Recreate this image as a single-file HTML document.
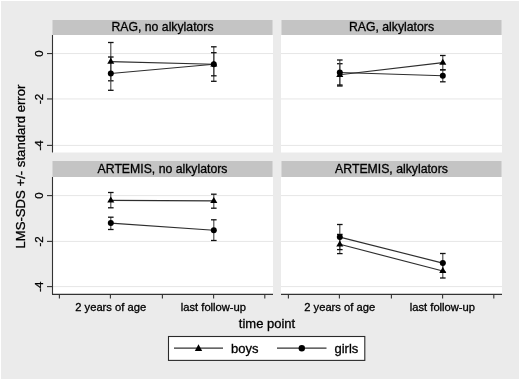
<!DOCTYPE html>
<html><head><meta charset="utf-8"><style>
html,body{margin:0;padding:0;background:#fff;}
svg{display:block;font-family:"Liberation Sans", sans-serif;filter:grayscale(1) blur(0.3px);}
text{stroke:#000;stroke-width:0.3px;}
</style></head><body>
<svg width="520" height="380" viewBox="0 0 520 380">
<rect x="0" y="0" width="520" height="380" fill="#ffffff"/>
<rect x="1" y="1" width="518" height="378" fill="#ebebeb"/>
<rect x="52.5" y="20" width="220" height="15" fill="#c4c4c4"/>
<text x="162.5" y="30.6" font-size="12.25" text-anchor="middle" fill="#000">RAG, no alkylators</text>
<rect x="52" y="35" width="221" height="117.5" fill="#fff"/>
<line x1="52" x2="273" y1="53.55" y2="53.55" stroke="#e6e6e6" stroke-width="1"/>
<line x1="52" x2="273" y1="98.95" y2="98.95" stroke="#e6e6e6" stroke-width="1"/>
<line x1="52" x2="273" y1="145.4" y2="145.4" stroke="#e6e6e6" stroke-width="1"/>
<line x1="52.5" x2="52.5" y1="35" y2="152.5" stroke="#333333" stroke-width="1.1"/>
<line x1="47" x2="52.5" y1="53.55" y2="53.55" stroke="#333333" stroke-width="1.1"/>
<text transform="translate(43.3,53.55) rotate(-90)" x="0" y="0" font-size="11.5" text-anchor="middle" fill="#000">0</text>
<line x1="47" x2="52.5" y1="98.95" y2="98.95" stroke="#333333" stroke-width="1.1"/>
<text transform="translate(43.3,98.95) rotate(-90)" x="0" y="0" font-size="11.5" text-anchor="middle" fill="#000">-2</text>
<line x1="47" x2="52.5" y1="145.4" y2="145.4" stroke="#333333" stroke-width="1.1"/>
<text transform="translate(43.3,145.4) rotate(-90)" x="0" y="0" font-size="11.5" text-anchor="middle" fill="#000">-4</text>
<line x1="110.8" x2="110.8" y1="42.5" y2="80.8" stroke="#444" stroke-width="1.1"/>
<line x1="108.0" x2="113.6" y1="42.5" y2="42.5" stroke="#111" stroke-width="1.3"/>
<line x1="108.0" x2="113.6" y1="80.8" y2="80.8" stroke="#111" stroke-width="1.3"/>
<line x1="213.8" x2="213.8" y1="46.8" y2="81.3" stroke="#444" stroke-width="1.1"/>
<line x1="211.0" x2="216.60000000000002" y1="46.8" y2="46.8" stroke="#111" stroke-width="1.3"/>
<line x1="211.0" x2="216.60000000000002" y1="81.3" y2="81.3" stroke="#111" stroke-width="1.3"/>
<line x1="110.8" x2="110.8" y1="57.0" y2="90.3" stroke="#444" stroke-width="1.1"/>
<line x1="108.0" x2="113.6" y1="57.0" y2="57.0" stroke="#111" stroke-width="1.3"/>
<line x1="108.0" x2="113.6" y1="90.3" y2="90.3" stroke="#111" stroke-width="1.3"/>
<line x1="213.8" x2="213.8" y1="52.7" y2="75.8" stroke="#444" stroke-width="1.1"/>
<line x1="211.0" x2="216.60000000000002" y1="52.7" y2="52.7" stroke="#111" stroke-width="1.3"/>
<line x1="211.0" x2="216.60000000000002" y1="75.8" y2="75.8" stroke="#111" stroke-width="1.3"/>
<line x1="110.8" y1="61.6" x2="213.8" y2="64.3" stroke="#2e2e2e" stroke-width="1.15"/>
<path d="M110.8,57.7 L114.35,63.7 L107.25,63.7 Z" fill="#000"/>
<path d="M213.8,60.4 L217.35000000000002,66.39999999999999 L210.25,66.39999999999999 Z" fill="#000"/>
<line x1="110.8" y1="73.5" x2="213.8" y2="64.3" stroke="#2e2e2e" stroke-width="1.15"/>
<circle cx="110.8" cy="73.5" r="3.0" fill="#000"/>
<circle cx="213.8" cy="64.3" r="3.0" fill="#000"/>
<rect x="281.5" y="20" width="220" height="15" fill="#c4c4c4"/>
<text x="391.5" y="30.6" font-size="12.25" text-anchor="middle" fill="#000">RAG, alkylators</text>
<rect x="281" y="35" width="221" height="117.5" fill="#fff"/>
<line x1="281" x2="502" y1="53.55" y2="53.55" stroke="#e6e6e6" stroke-width="1"/>
<line x1="281" x2="502" y1="98.95" y2="98.95" stroke="#e6e6e6" stroke-width="1"/>
<line x1="281" x2="502" y1="145.4" y2="145.4" stroke="#e6e6e6" stroke-width="1"/>
<line x1="339.8" x2="339.8" y1="63.7" y2="86.0" stroke="#444" stroke-width="1.1"/>
<line x1="337.0" x2="342.6" y1="63.7" y2="63.7" stroke="#111" stroke-width="1.3"/>
<line x1="337.0" x2="342.6" y1="86.0" y2="86.0" stroke="#111" stroke-width="1.3"/>
<line x1="442.8" x2="442.8" y1="55.5" y2="69.8" stroke="#444" stroke-width="1.1"/>
<line x1="440.0" x2="445.6" y1="55.5" y2="55.5" stroke="#111" stroke-width="1.3"/>
<line x1="440.0" x2="445.6" y1="69.8" y2="69.8" stroke="#111" stroke-width="1.3"/>
<line x1="339.8" x2="339.8" y1="60.0" y2="85.0" stroke="#444" stroke-width="1.1"/>
<line x1="337.0" x2="342.6" y1="60.0" y2="60.0" stroke="#111" stroke-width="1.3"/>
<line x1="337.0" x2="342.6" y1="85.0" y2="85.0" stroke="#111" stroke-width="1.3"/>
<line x1="442.8" x2="442.8" y1="69.8" y2="81.8" stroke="#444" stroke-width="1.1"/>
<line x1="440.0" x2="445.6" y1="69.8" y2="69.8" stroke="#111" stroke-width="1.3"/>
<line x1="440.0" x2="445.6" y1="81.8" y2="81.8" stroke="#111" stroke-width="1.3"/>
<line x1="339.8" y1="74.8" x2="442.8" y2="62.6" stroke="#2e2e2e" stroke-width="1.15"/>
<path d="M339.8,70.89999999999999 L343.35,76.89999999999999 L336.25,76.89999999999999 Z" fill="#000"/>
<path d="M442.8,58.7 L446.35,64.7 L439.25,64.7 Z" fill="#000"/>
<line x1="339.8" y1="72.5" x2="442.8" y2="75.8" stroke="#2e2e2e" stroke-width="1.15"/>
<circle cx="339.8" cy="72.5" r="3.0" fill="#000"/>
<circle cx="442.8" cy="75.8" r="3.0" fill="#000"/>
<rect x="52.5" y="161" width="220" height="16" fill="#c4c4c4"/>
<text x="162.5" y="173.2" font-size="12.25" text-anchor="middle" fill="#000">ARTEMIS, no alkylators</text>
<rect x="52" y="177" width="221" height="117.5" fill="#fff"/>
<line x1="52" x2="273" y1="195.6" y2="195.6" stroke="#e6e6e6" stroke-width="1"/>
<line x1="52" x2="273" y1="241.4" y2="241.4" stroke="#e6e6e6" stroke-width="1"/>
<line x1="52" x2="273" y1="286.6" y2="286.6" stroke="#e6e6e6" stroke-width="1"/>
<line x1="52.5" x2="52.5" y1="177" y2="294.5" stroke="#333333" stroke-width="1.1"/>
<line x1="47" x2="52.5" y1="195.6" y2="195.6" stroke="#333333" stroke-width="1.1"/>
<text transform="translate(43.3,195.6) rotate(-90)" x="0" y="0" font-size="11.5" text-anchor="middle" fill="#000">0</text>
<line x1="47" x2="52.5" y1="241.4" y2="241.4" stroke="#333333" stroke-width="1.1"/>
<text transform="translate(43.3,241.4) rotate(-90)" x="0" y="0" font-size="11.5" text-anchor="middle" fill="#000">-2</text>
<line x1="47" x2="52.5" y1="286.6" y2="286.6" stroke="#333333" stroke-width="1.1"/>
<text transform="translate(43.3,286.6) rotate(-90)" x="0" y="0" font-size="11.5" text-anchor="middle" fill="#000">-4</text>
<line x1="52" x2="273" y1="294.4" y2="294.4" stroke="#333333" stroke-width="1.3"/>
<line x1="59.4" x2="59.4" y1="294.4" y2="298.6" stroke="#333333" stroke-width="1.1"/>
<line x1="110.4" x2="110.4" y1="294.4" y2="298.6" stroke="#333333" stroke-width="1.1"/>
<line x1="162.4" x2="162.4" y1="294.4" y2="298.6" stroke="#333333" stroke-width="1.1"/>
<line x1="213.6" x2="213.6" y1="294.4" y2="298.6" stroke="#333333" stroke-width="1.1"/>
<line x1="264.8" x2="264.8" y1="294.4" y2="298.6" stroke="#333333" stroke-width="1.1"/>
<text x="110.7" y="310.6" font-size="11.2" text-anchor="middle" fill="#000">2 years of age</text>
<text x="213.4" y="310.6" font-size="11.2" text-anchor="middle" fill="#000">last follow-up</text>
<line x1="110.8" x2="110.8" y1="192.5" y2="207.8" stroke="#444" stroke-width="1.1"/>
<line x1="108.0" x2="113.6" y1="192.5" y2="192.5" stroke="#111" stroke-width="1.3"/>
<line x1="108.0" x2="113.6" y1="207.8" y2="207.8" stroke="#111" stroke-width="1.3"/>
<line x1="213.8" x2="213.8" y1="194.2" y2="208.2" stroke="#444" stroke-width="1.1"/>
<line x1="211.0" x2="216.60000000000002" y1="194.2" y2="194.2" stroke="#111" stroke-width="1.3"/>
<line x1="211.0" x2="216.60000000000002" y1="208.2" y2="208.2" stroke="#111" stroke-width="1.3"/>
<line x1="110.8" x2="110.8" y1="217.2" y2="229.5" stroke="#444" stroke-width="1.1"/>
<line x1="108.0" x2="113.6" y1="217.2" y2="217.2" stroke="#111" stroke-width="1.3"/>
<line x1="108.0" x2="113.6" y1="229.5" y2="229.5" stroke="#111" stroke-width="1.3"/>
<line x1="213.8" x2="213.8" y1="219.8" y2="240.5" stroke="#444" stroke-width="1.1"/>
<line x1="211.0" x2="216.60000000000002" y1="219.8" y2="219.8" stroke="#111" stroke-width="1.3"/>
<line x1="211.0" x2="216.60000000000002" y1="240.5" y2="240.5" stroke="#111" stroke-width="1.3"/>
<line x1="110.8" y1="200.4" x2="213.8" y2="200.9" stroke="#2e2e2e" stroke-width="1.15"/>
<path d="M110.8,196.5 L114.35,202.5 L107.25,202.5 Z" fill="#000"/>
<path d="M213.8,197.0 L217.35000000000002,203.0 L210.25,203.0 Z" fill="#000"/>
<line x1="110.8" y1="223.1" x2="213.8" y2="230.2" stroke="#2e2e2e" stroke-width="1.15"/>
<circle cx="110.8" cy="223.1" r="3.0" fill="#000"/>
<circle cx="213.8" cy="230.2" r="3.0" fill="#000"/>
<rect x="281.5" y="161" width="220" height="16" fill="#c4c4c4"/>
<text x="391.5" y="173.2" font-size="12.25" text-anchor="middle" fill="#000">ARTEMIS, alkylators</text>
<rect x="281" y="177" width="221" height="117.5" fill="#fff"/>
<line x1="281" x2="502" y1="195.6" y2="195.6" stroke="#e6e6e6" stroke-width="1"/>
<line x1="281" x2="502" y1="241.4" y2="241.4" stroke="#e6e6e6" stroke-width="1"/>
<line x1="281" x2="502" y1="286.6" y2="286.6" stroke="#e6e6e6" stroke-width="1"/>
<line x1="281" x2="502" y1="294.4" y2="294.4" stroke="#333333" stroke-width="1.3"/>
<line x1="288.4" x2="288.4" y1="294.4" y2="298.6" stroke="#333333" stroke-width="1.1"/>
<line x1="339.4" x2="339.4" y1="294.4" y2="298.6" stroke="#333333" stroke-width="1.1"/>
<line x1="391.4" x2="391.4" y1="294.4" y2="298.6" stroke="#333333" stroke-width="1.1"/>
<line x1="442.6" x2="442.6" y1="294.4" y2="298.6" stroke="#333333" stroke-width="1.1"/>
<line x1="493.8" x2="493.8" y1="294.4" y2="298.6" stroke="#333333" stroke-width="1.1"/>
<text x="339.7" y="310.6" font-size="11.2" text-anchor="middle" fill="#000">2 years of age</text>
<text x="442.4" y="310.6" font-size="11.2" text-anchor="middle" fill="#000">last follow-up</text>
<line x1="339.8" x2="339.8" y1="234.4" y2="253.6" stroke="#444" stroke-width="1.1"/>
<line x1="337.0" x2="342.6" y1="234.4" y2="234.4" stroke="#111" stroke-width="1.3"/>
<line x1="337.0" x2="342.6" y1="253.6" y2="253.6" stroke="#111" stroke-width="1.3"/>
<line x1="442.8" x2="442.8" y1="263.0" y2="278.0" stroke="#444" stroke-width="1.1"/>
<line x1="440.0" x2="445.6" y1="263.0" y2="263.0" stroke="#111" stroke-width="1.3"/>
<line x1="440.0" x2="445.6" y1="278.0" y2="278.0" stroke="#111" stroke-width="1.3"/>
<line x1="339.8" x2="339.8" y1="224.5" y2="249.6" stroke="#444" stroke-width="1.1"/>
<line x1="337.0" x2="342.6" y1="224.5" y2="224.5" stroke="#111" stroke-width="1.3"/>
<line x1="337.0" x2="342.6" y1="249.6" y2="249.6" stroke="#111" stroke-width="1.3"/>
<line x1="442.8" x2="442.8" y1="253.5" y2="272.0" stroke="#444" stroke-width="1.1"/>
<line x1="440.0" x2="445.6" y1="253.5" y2="253.5" stroke="#111" stroke-width="1.3"/>
<line x1="440.0" x2="445.6" y1="272.0" y2="272.0" stroke="#111" stroke-width="1.3"/>
<line x1="339.8" y1="244.3" x2="442.8" y2="271.0" stroke="#2e2e2e" stroke-width="1.15"/>
<path d="M339.8,240.4 L343.35,246.4 L336.25,246.4 Z" fill="#000"/>
<path d="M442.8,267.1 L446.35,273.1 L439.25,273.1 Z" fill="#000"/>
<line x1="339.8" y1="237.1" x2="442.8" y2="263.1" stroke="#2e2e2e" stroke-width="1.15"/>
<circle cx="339.8" cy="237.1" r="3.0" fill="#000"/>
<circle cx="442.8" cy="263.1" r="3.0" fill="#000"/>
<text transform="translate(24.5,166.6) rotate(-90)" x="0" y="0" font-size="13.15" text-anchor="middle" fill="#000">LMS-SDS +/- standard error</text>
<text x="267" y="327.9" font-size="13" text-anchor="middle" fill="#000">time point</text>
<rect x="168.5" y="336.5" width="196.3" height="23.9" fill="#fff" stroke="#2a2a2a" stroke-width="1.1"/>
<line x1="174" x2="223" y1="348.2" y2="348.2" stroke="#333" stroke-width="1.2"/>
<path d="M198.5,344.2 L202.2,351 L194.8,351 Z" fill="#000"/>
<text x="231" y="353.2" font-size="13" fill="#000">boys</text>
<line x1="277" x2="326.5" y1="348.2" y2="348.2" stroke="#333" stroke-width="1.2"/>
<circle cx="301.8" cy="348.2" r="3.2" fill="#000"/>
<text x="334.5" y="353.2" font-size="13" fill="#000">girls</text>
</svg>
</body></html>
